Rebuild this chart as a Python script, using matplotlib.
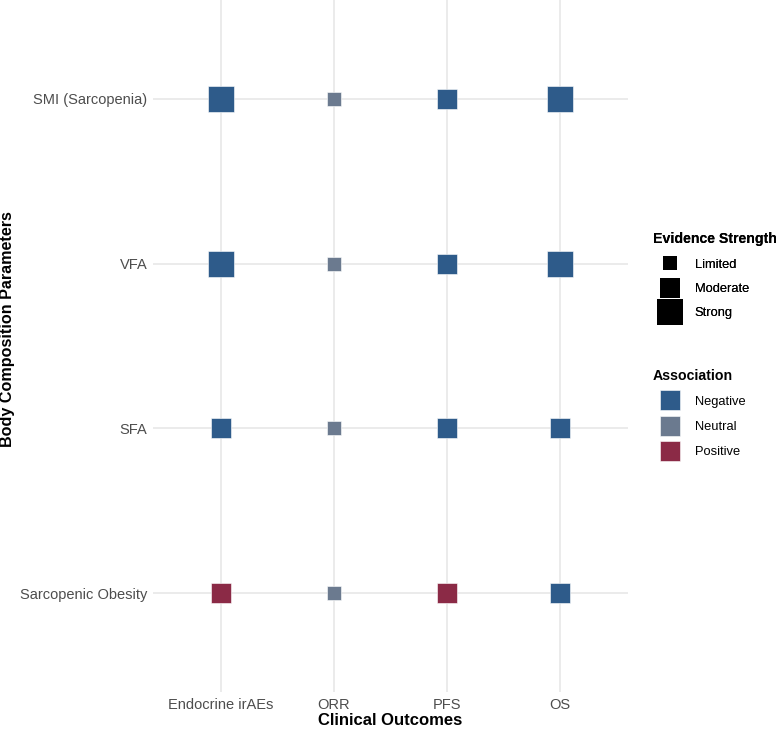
import matplotlib
matplotlib.use("Agg")
import matplotlib.pyplot as plt
from matplotlib.lines import Line2D

plt.rcParams['font.family'] = ['Liberation Sans', 'DejaVu Sans']

outcomes = ["Endocrine irAEs", "ORR", "PFS", "OS"]
parameters = ["Sarcopenic Obesity", "SFA", "VFA", "SMI (Sarcopenia)"]  # bottom to top

# rows: parameter, columns: outcome
strength = {
    "SMI (Sarcopenia)":   ["Strong", "Limited", "Moderate", "Strong"],
    "VFA":                ["Strong", "Limited", "Moderate", "Strong"],
    "SFA":                ["Moderate", "Limited", "Moderate", "Moderate"],
    "Sarcopenic Obesity": ["Moderate", "Limited", "Moderate", "Moderate"],
}
association = {
    "SMI (Sarcopenia)":   ["Negative", "Neutral", "Negative", "Negative"],
    "VFA":                ["Negative", "Neutral", "Negative", "Negative"],
    "SFA":                ["Negative", "Neutral", "Negative", "Negative"],
    "Sarcopenic Obesity": ["Positive", "Neutral", "Positive", "Negative"],
}

strength_levels = ["Limited", "Moderate", "Strong"]
assoc_levels = ["Negative", "Neutral", "Positive"]
marker_pts = {"Limited": 9.4, "Moderate": 14.2, "Strong": 18.7}
colors = {"Negative": "#2E5B8A", "Neutral": "#6B7A8F", "Positive": "#8B2A46"}

fig = plt.figure(figsize=(7.8, 7.3), dpi=100)
ax = fig.add_axes([0.196, 0.052, 0.609, 0.948])

for yi, p in enumerate(parameters):
    for xi, o in enumerate(outcomes):
        s = strength[p][xi]
        a = association[p][xi]
        ax.scatter([xi], [yi], s=marker_pts[s] ** 2, marker="s",
                   color=colors[a], edgecolors="white", linewidths=0.4, zorder=3)

ax.set_xlim(-0.6, len(outcomes) - 0.4)
ax.set_ylim(-0.6, len(parameters) - 0.4)
ax.set_xticks(range(len(outcomes)))
ax.set_xticklabels(outcomes)
ax.set_yticks(range(len(parameters)))
ax.set_yticklabels(parameters)
ax.grid(True, color="#E5E5E5", linewidth=1.1, zorder=0)
ax.set_axisbelow(True)
for sp in ax.spines.values():
    sp.set_visible(False)
ax.tick_params(length=0, labelsize=10.5, labelcolor="#4D4D4D", pad=4)
ax.set_xlabel("Clinical Outcomes", fontsize=12, fontweight="bold", labelpad=1)
ax.set_ylabel("Body Composition Parameters", fontsize=11.6, fontweight="bold")
ax.yaxis.set_label_coords(-0.29, 0.525)

h1 = [Line2D([], [], linestyle="none", marker="s", markersize=marker_pts[s],
             markerfacecolor="black", markeredgecolor="black", markeredgewidth=0)
      for s in strength_levels]
leg1 = fig.legend(h1, strength_levels, title="Evidence Strength", loc="upper left",
                  bbox_to_anchor=(0.822, 0.6975), frameon=False, fontsize=9.3,
                  title_fontproperties={"weight": "bold", "size": 10.2},
                  handlelength=2.65, handletextpad=0.6, labelspacing=0.95,
                  alignment="left")
h2 = [Line2D([], [], linestyle="none", marker="s", markersize=14.2,
             markerfacecolor=colors[a], markeredgecolor="white", markeredgewidth=0.4)
      for a in assoc_levels]
leg2 = fig.legend(h2, assoc_levels, title="Association", loc="upper left",
                  bbox_to_anchor=(0.822, 0.511), frameon=False, fontsize=9.3,
                  title_fontproperties={"weight": "bold", "size": 10.2},
                  handlelength=2.65, handletextpad=0.6, labelspacing=1.02,
                  alignment="left")
fig.add_artist(leg1)

fig.savefig("out.png", dpi=100)
